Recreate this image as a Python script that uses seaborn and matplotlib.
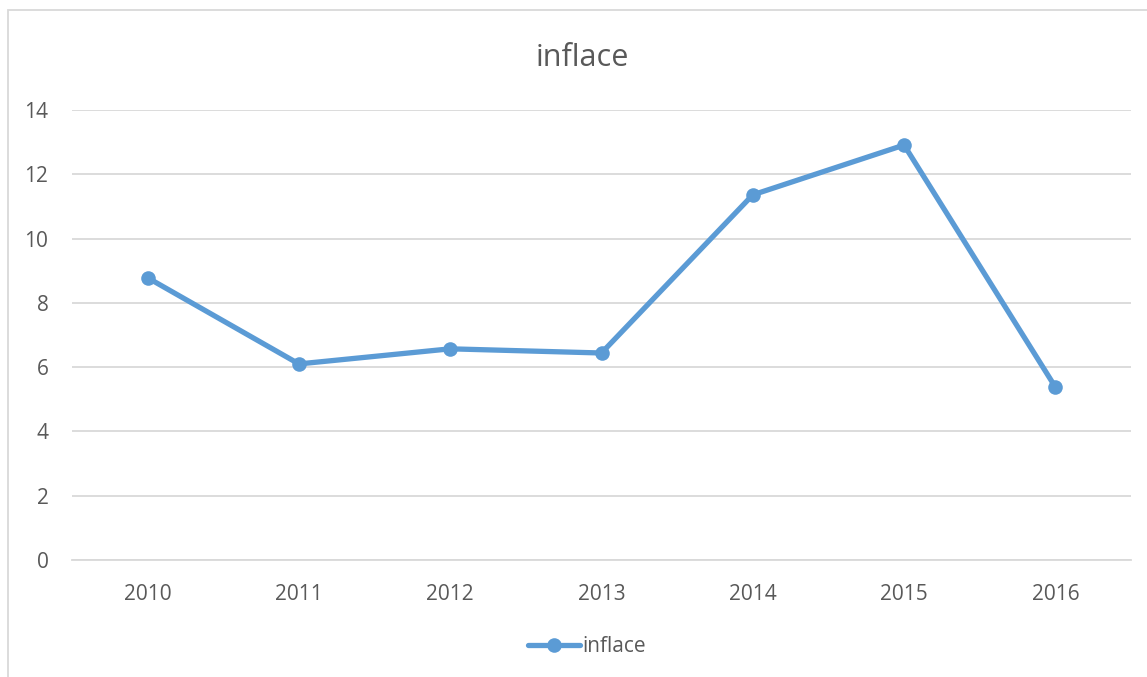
import matplotlib
matplotlib.use("Agg")
import matplotlib.pyplot as plt
import seaborn as sns
import pandas as pd
from matplotlib.patches import Rectangle

years = ["2010", "2011", "2012", "2013", "2014", "2015", "2016"]
inflace = [8.78, 6.10, 6.57, 6.44, 11.36, 12.91, 5.38]
series_name = "inflace"
y_ticks = [0, 2, 4, 6, 8, 10, 12, 14]

sns.set_theme(style="white")
plt.rcParams['font.family'] = ['Open Sans', 'DejaVu Sans']

df = pd.DataFrame({"rok": years, "hodnota": inflace, "serie": series_name})

fig = plt.figure(figsize=(11.47, 6.77), dpi=100)
ax = fig.add_axes([72/1147, 1-560/677, (1131-72)/1147, 450/677])

blue = "#5B9BD5"
sns.lineplot(data=df, x="rok", y="hodnota", hue="serie", palette=[blue],
             marker="o", markersize=10.5, markeredgewidth=0, linewidth=3.8,
             ax=ax, sort=False)

ax.set_xlim(-0.5, 6.5)
ax.set_ylim(0, 14)
ax.set_yticks(y_ticks)
ax.set_yticklabels([str(t) for t in y_ticks])
ax.yaxis.grid(True, color="#D9D9D9", linewidth=1.3)
ax.xaxis.grid(False)
ax.set_axisbelow(True)
for s in ["top", "right", "left"]:
    ax.spines[s].set_visible(False)
ax.spines["bottom"].set_color("#D9D9D9")
ax.spines["bottom"].set_linewidth(1.3)
ax.tick_params(axis="both", length=0, labelsize=15, colors="#595959")
ax.tick_params(axis="x", pad=17)
ax.tick_params(axis="y", pad=17)
ax.set_xlabel("")
ax.set_ylabel("")

fig.text(582/1147, 1-58/677, "inflace", ha="center", va="center",
         fontsize=22, color="#595959")

leg = ax.legend(loc="center", bbox_to_anchor=(587/1147, 1-647/677), bbox_transform=fig.transFigure,
                frameon=False, fontsize=15, handlelength=2.5, handletextpad=0.15)
for t in leg.get_texts():
    t.set_color("#595959")

# chart frame
fig.patches.append(Rectangle((8/1147, -0.05), 1.2, 1-10/677+0.05, transform=fig.transFigure,
                             fill=False, edgecolor="#D9D9D9", linewidth=1.3, zorder=-1))

fig.savefig("out.png", dpi=100, facecolor="white")
